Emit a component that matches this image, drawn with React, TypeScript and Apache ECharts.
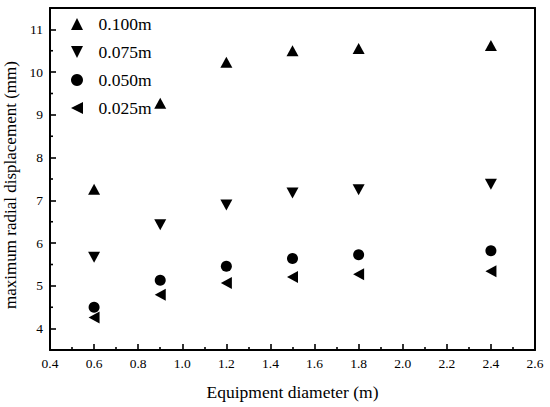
import React, { useEffect, useRef } from "react";
import * as echarts from "echarts";

const diameters = [0.6, 0.9, 1.2, 1.5, 1.8, 2.4];
const s100 = [7.26, 9.27, 10.23, 10.5, 10.55, 10.62];
const s075 = [5.67, 6.43, 6.89, 7.17, 7.25, 7.38];
const s050 = [4.5, 5.13, 5.46, 5.64, 5.73, 5.82];
const s025 = [4.26, 4.79, 5.07, 5.21, 5.27, 5.34];
const seriesNames = ["0.100m", "0.075m", "0.050m", "0.025m"];

const X_MIN = 0.4;
const X_MAX = 2.6;
const X_STEP = 0.2;
const Y_MIN = 3.5;
const Y_MAX = 11.5;
const yMajorTicks = [4, 5, 6, 7, 8, 9, 10, 11];
const yMinorTicks = [3.5, 4.5, 5.5, 6.5, 7.5, 8.5, 9.5, 10.5, 11.5];

const FONT = "Liberation Serif";
const UP = "path://M1,0 L2,2 L0,2 Z";
const DOWN = "path://M0,0 L2,0 L1,2 Z";
const LEFT = "path://M2,0 L2,2 L0,1 Z";

export default function App() {
  const ref = useRef<HTMLDivElement>(null);
  useEffect(() => {
    if (!ref.current) return;
    const chart = echarts.init(ref.current, undefined, { renderer: "svg" });
    const pts = (ys: number[]) => diameters.map((x, i) => [x, ys[i]]);
    const line = () => ({ color: "#000", width: 2, opacity: 1 });
    const tick = () => ({ color: "#000", width: 1.6, opacity: 1 });
    const mk = (name: string, symbol: string, size: any, data: number[]) => ({
      name,
      type: "scatter",
      symbol,
      symbolSize: size,
      itemStyle: { color: "#000", opacity: 1 },
      data: pts(data),
    });
    chart.setOption({
      animation: false,
      grid: { left: 50, top: 8, right: 15, bottom: 57, outerBoundsMode: "none" },
      legend: {
        orient: "vertical",
        left: 66,
        top: 10,
        itemWidth: 13,
        itemHeight: 12,
        itemGap: 10,
        textStyle: { fontFamily: FONT, fontSize: 17.5, color: "#000", padding: [0, 0, 0, 10] },
        data: seriesNames,
      },
      xAxis: [
        {
          type: "value",
          min: X_MIN,
          max: X_MAX,
          interval: X_STEP,
          name: "Equipment diameter (m)",
          nameLocation: "middle",
          nameGap: 33,
          nameTextStyle: { fontFamily: FONT, fontSize: 17.5, color: "#000" },
          axisLine: { show: true, lineStyle: line() },
          axisTick: { show: true, inside: true, length: 6, lineStyle: tick() },
          minorTick: { show: true, splitNumber: 2, length: 3, lineStyle: tick() },
          axisLabel: {
            show: true,
            fontFamily: FONT,
            fontSize: 13.5,
            color: "#000",
            margin: 6,
            formatter: (v: number) => v.toFixed(1),
          },
          splitLine: { show: false },
          minorSplitLine: { show: false },
        },
        {
          type: "value",
          min: X_MIN,
          max: X_MAX,
          position: "top",
          axisLine: { show: true, lineStyle: line() },
          axisTick: { show: false },
          axisLabel: { show: false },
          splitLine: { show: false },
        },
      ],
      yAxis: [
        {
          type: "value",
          min: Y_MIN,
          max: Y_MAX,
          name: "maximum radial displacement (mm)",
          nameLocation: "middle",
          nameGap: 15,
          nameTextStyle: { fontFamily: FONT, fontSize: 17, color: "#000", padding: [0, 12, 0, 0] },
          axisLine: { show: true, lineStyle: line() },
          axisTick: { show: true, inside: true, length: 6, customValues: yMajorTicks, lineStyle: tick() },
          axisLabel: {
            show: true,
            customValues: yMajorTicks,
            fontFamily: FONT,
            fontSize: 13.5,
            color: "#000",
            margin: 7,
            formatter: (v: number) => String(v),
          },
          splitLine: { show: false },
        },
        {
          type: "value",
          min: Y_MIN,
          max: Y_MAX,
          position: "right",
          axisLine: { show: true, lineStyle: line() },
          axisTick: { show: false },
          axisLabel: { show: false },
          splitLine: { show: false },
        },
      ],
      series: [
        mk(seriesNames[0], UP, [12, 11], s100),
        mk(seriesNames[1], DOWN, [12, 11], s075),
        mk(seriesNames[2], "circle", 11, s050),
        mk(seriesNames[3], LEFT, [11, 12], s025),
        {
          type: "custom",
          name: "yMinor",
          silent: true,
          clip: false,
          data: yMinorTicks.map((v) => [X_MIN, v]),
          renderItem: (_params: any, api: any) => {
            const p = api.coord([api.value(0), api.value(1)]);
            return {
              type: "line",
              shape: { x1: p[0], y1: p[1], x2: p[0] + 3, y2: p[1] },
              style: { stroke: "#000", lineWidth: 1.6 },
            };
          },
        },
      ],
    });
    return () => chart.dispose();
  }, []);
  return (
    <div
      ref={ref}
      style={{ position: "fixed", left: 0, top: 0, width: 550, height: 407, background: "#fff" }}
    />
  );
}
